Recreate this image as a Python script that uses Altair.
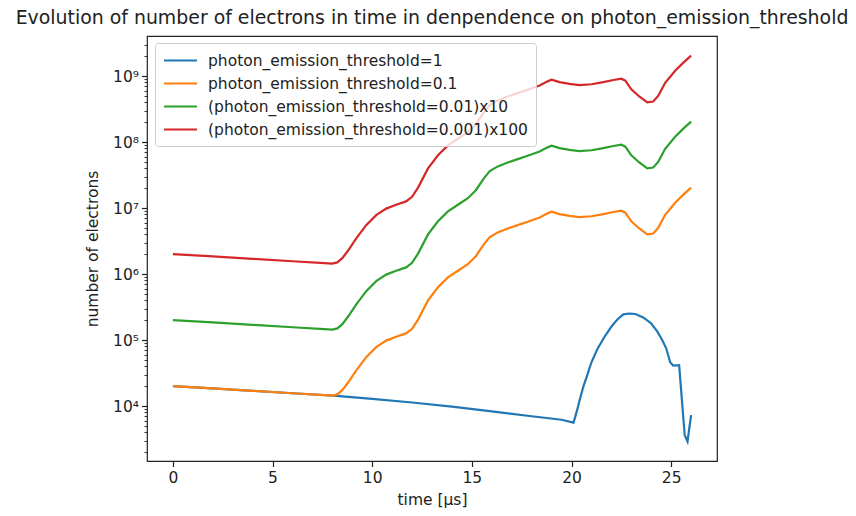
import altair as alt
import pandas as pd

# ---------------- data ----------------
# time in microseconds, number of electrons
blue_t = [0, 2, 4, 6, 8.05, 10, 12, 14, 16, 18, 19.5, 20.1, 20.25, 20.4, 20.6,
          20.8, 21.0, 21.3, 21.68, 22.0, 22.3, 22.6, 22.9, 23.2, 23.6, 24.0,
          24.3, 24.55, 24.75, 24.95, 25.1, 25.4, 25.68, 25.82, 26.0]
blue_n = [2.0e4, 1.85e4, 1.70e4, 1.56e4, 1.44e4, 1.28e4, 1.13e4, 9.8e3, 8.3e3,
          7.0e3, 6.2e3, 5.6e3, 8.0e3, 1.2e4, 2.0e4, 3.0e4, 4.6e4, 7.3e4,
          1.15e5, 1.6e5, 2.05e5, 2.45e5, 2.52e5, 2.48e5, 2.2e5, 1.78e5,
          1.35e5, 1.0e5, 7.5e4, 4.6e4, 4.1e4, 4.15e4, 3.6e3, 2.9e3, 7.3e3]

orange_t = [0, 2, 4, 6, 7.6, 8.0, 8.25, 8.5, 8.8, 9.2, 9.7, 10.2, 10.7, 11.2,
            11.7, 12.0, 12.3, 12.8, 13.3, 13.8, 14.3, 14.8, 15.2, 15.6, 15.9,
            16.3, 16.8, 17.3, 17.8, 18.4, 18.8, 19.0, 19.4, 19.9, 20.4, 21.0,
            21.6, 22.1, 22.5, 22.7, 23.0, 23.4, 23.8, 24.1, 24.35, 24.7, 25.2,
            25.6, 26.0]
orange_n = [2.0e4, 1.85e4, 1.70e4, 1.56e4, 1.46e4, 1.44e4, 1.50e4, 1.74e4,
            2.29e4, 3.47e4, 5.5e4, 7.8e4, 9.8e4, 1.12e5, 1.26e5, 1.48e5, 2.04e5,
            3.98e5, 6.3e5, 8.9e5, 1.12e6, 1.41e6, 1.86e6, 2.82e6, 3.63e6,
            4.27e6, 4.9e6, 5.5e6, 6.2e6, 7.2e6, 8.3e6, 8.8e6, 8.1e6, 7.6e6,
            7.3e6, 7.5e6, 8.1e6, 8.7e6, 9.1e6, 8.5e6, 6.3e6, 4.9e6, 4.0e6,
            4.1e6, 5.0e6, 7.9e6, 1.20e7, 1.58e7, 2.04e7]

# photon_emission_threshold=0.01 and 0.001 (before the x10 / x100 shift of the legend)
green_t = [0, 2, 4, 6, 7.6, 8.0, 8.25, 8.5, 8.8, 9.2, 9.7, 10.2, 10.7, 11.2,
           11.7, 12.0, 12.3, 12.8, 13.3, 13.8, 14.3, 14.8, 15.2, 15.6, 15.9,
           16.3, 16.8, 17.3, 17.8, 18.4, 18.8, 19.0, 19.4, 19.9, 20.4, 21.0,
           21.6, 22.1, 22.5, 22.7, 23.0, 23.4, 23.8, 24.1, 24.35, 24.7, 25.2,
           25.6, 26.0]
green_n = [2.0e4, 1.85e4, 1.70e4, 1.56e4, 1.46e4, 1.44e4, 1.50e4, 1.74e4,
           2.29e4, 3.47e4, 5.5e4, 7.8e4, 9.8e4, 1.12e5, 1.26e5, 1.48e5, 2.04e5,
           3.98e5, 6.3e5, 8.9e5, 1.12e6, 1.41e6, 1.86e6, 2.82e6, 3.63e6,
           4.27e6, 4.9e6, 5.5e6, 6.2e6, 7.2e6, 8.3e6, 8.8e6, 8.1e6, 7.6e6,
           7.3e6, 7.5e6, 8.1e6, 8.7e6, 9.1e6, 8.5e6, 6.3e6, 4.9e6, 4.0e6,
           4.1e6, 5.0e6, 7.9e6, 1.20e7, 1.58e7, 2.04e7]
red_t = list(green_t)
red_n = [2.0e4, 1.85e4, 1.70e4, 1.56e4, 1.46e4, 1.44e4, 1.50e4, 1.74e4,
         2.29e4, 3.47e4, 5.5e4, 7.8e4, 9.8e4, 1.12e5, 1.26e5, 1.48e5, 2.04e5,
         3.98e5, 6.3e5, 8.9e5, 1.12e6, 1.41e6, 1.86e6, 2.82e6, 3.63e6,
         4.27e6, 4.9e6, 5.5e6, 6.2e6, 7.2e6, 8.3e6, 8.8e6, 8.1e6, 7.6e6,
         7.3e6, 7.5e6, 8.1e6, 8.7e6, 9.1e6, 8.5e6, 6.3e6, 4.9e6, 4.0e6,
         4.1e6, 5.0e6, 7.9e6, 1.20e7, 1.58e7, 2.04e7]

series_labels = [
    "photon_emission_threshold=1",
    "photon_emission_threshold=0.1",
    "(photon_emission_threshold=0.01)x10",
    "(photon_emission_threshold=0.001)x100",
]
series_factor = [1, 1, 10, 100]
series_colors = ["#1f77b4", "#ff7f0e", "#2ca02c", "#d62728"]

x_ticks = [0, 5, 10, 15, 20, 25]
y_major = [1e4, 1e5, 1e6, 1e7, 1e8, 1e9]
y_major_labels = ["10⁴", "10⁵", "10⁶", "10⁷", "10⁸", "10⁹"]
y_minor = [m * 10 ** e for e in range(3, 10) for m in range(2, 10)
           if 1.5e3 < m * 10 ** e < 4e9]

title_text = "Evolution of number of electrons in time in denpendence on photon_emission_threshold"

# ---------------- chart ----------------
FONT = "DejaVu Sans"
FS = 15.5
INK = "#222222"

frames = []
for lab, fac, ts, ns in zip(series_labels, series_factor,
                            [blue_t, orange_t, green_t, red_t],
                            [blue_n, orange_n, green_n, red_n]):
    frames.append(pd.DataFrame({"t": ts, "n": [v * fac for v in ns], "series": lab}))

# y label expression from the tick lists
expr = "''"
for v, l in zip(reversed(y_major), reversed(y_major_labels)):
    expr = f"abs(datum.value - {v:g}) < {v * 1e-6:g} ? '{l}' : ({expr})"

x_enc = alt.X("t:Q", scale=alt.Scale(domain=[-1.3, 27.3], nice=False, zero=False),
              axis=alt.Axis(values=x_ticks, title="time [μs]", grid=False, domain=False,
                            tickSize=5.5, tickWidth=1.2, tickColor=INK,
                            labelFont=FONT, labelFontSize=FS, labelColor=INK, labelPadding=4,
                            titleFont=FONT, titleFontSize=FS, titleFontWeight="normal",
                            titleColor=INK, titlePadding=6))
y_scale = alt.Scale(type="log", domain=[1469, 4.04e9], nice=False, zero=False)

color_enc = alt.Color("series:N", title=None,
                      scale=alt.Scale(domain=series_labels, range=series_colors),
                      legend=alt.Legend(orient="none", legendX=8, legendY=7,
                                        symbolType="M-2,0H2", symbolSize=272,
                                        symbolStrokeWidth=2.2, symbolOffset=8,
                                        labelFont=FONT, labelFontSize=FS, labelColor=INK,
                                        labelOffset=18, labelLimit=600,
                                        padding=8, rowPadding=5,
                                        fillColor="rgba(255,255,255,0.8)",
                                        strokeColor="#cccccc", cornerRadius=3,
                                        zindex=1))

layers = []
for i, df in enumerate(frames):
    if i == 0:
        yax = alt.Axis(values=y_major, labelExpr=expr, grid=False, domain=False,
                       tickSize=5.5, tickWidth=1.2, tickColor=INK,
                       labelFont=FONT, labelFontSize=FS, labelColor=INK, labelPadding=3,
                       title="number of electrons", titleFont=FONT, titleFontSize=FS,
                       titleFontWeight="normal", titleColor=INK, titlePadding=12)
    else:
        yax = None
    layers.append(
        alt.Chart(df).mark_line(strokeWidth=2.2).encode(
            x=x_enc,
            y=alt.Y("n:Q", scale=y_scale, axis=yax),
            color=color_enc,
        )
    )

minor = alt.Chart(frames[0]).mark_line(opacity=0).encode(
    x=x_enc,
    y=alt.Y("n:Q", scale=y_scale,
            axis=alt.Axis(values=y_minor, labels=False, grid=False, domain=False,
                          tickSize=3, tickWidth=0.9, tickColor=INK, title="",
                          orient="left")),
)

chart = alt.layer(*layers, minor).resolve_scale(y="shared").resolve_axis(
    y="independent"
).properties(
    width=570, height=425,
    title=alt.Title(title_text, font=FONT, fontSize=18.9, fontWeight="normal",
                    color=INK, anchor="middle", frame="group", offset=8,
                    baseline="alphabetic", dy=15),
    autosize=alt.AutoSizeParams(type="none"),
    padding={"left": 147, "top": 36, "right": 139, "bottom": 55},
).configure_view(stroke=INK, strokeWidth=1.2)

chart.save("out.html", embed_options={"renderer": "svg", "actions": False})
